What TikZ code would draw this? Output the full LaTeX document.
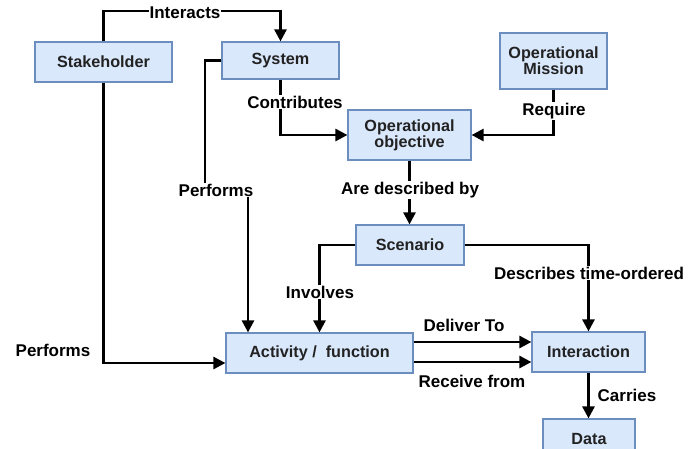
\documentclass[tikz,border=0pt]{standalone}
\usepackage{fontspec}
\setmainfont{Liberation Sans}
\usetikzlibrary{arrows.meta}
\definecolor{boxfill}{HTML}{DAE8FC}
\definecolor{boxline}{HTML}{6C8EBF}
\definecolor{boxtext}{HTML}{222222}
\tikzset{
  box/.style={draw=boxline, fill=boxfill, line width=1.2pt, inner sep=0pt,
    font=\bfseries\fontsize{16.2}{15}\selectfont, text=boxtext, align=center},
  conn/.style={line width=2.6pt, -{Triangle[length=12pt,width=12pt]}},
  lbl/.style={fill=white, inner sep=1pt, font=\bfseries\fontsize{17}{18}\selectfont},
}
\begin{document}
\begin{tikzpicture}[x=1pt,y=-1pt]
\path[fill=white] (0,0) rectangle (699,448);
\useasboundingbox (0,0) rectangle (699,448);
\clip (0,0) rectangle (699,448);

\node[box, minimum width=137, minimum height=40] (stake) at (103.5,62) {Stakeholder};
\node[box, minimum width=117, minimum height=37] (sys) at (280.5,60.5) {System};
\node[box, minimum width=107, minimum height=56] (mis) at (553.5,61) {Operational\\Mission};
\node[box, minimum width=123, minimum height=50] (obj) at (409.5,135) {Operational\\objective};
\node[box, minimum width=108, minimum height=40] (scn) at (410,245) {Scenario};
\node[box, minimum width=187, minimum height=40] (act) at (319.5,353) {Activity /\ \ function};
\node[box, minimum width=113, minimum height=40] (int) at (588.5,352) {Interaction};
\node[box, minimum width=92, minimum height=40] (dat) at (589,439) {Data};

\coordinate (c5) at (248,190);
\coordinate (c6) at (103.5,363);
\coordinate (cd) at (0,342);
\coordinate (cr) at (0,362);

\draw[conn] (stake.north) |- (185,11) -| (sys.north);
\draw[conn] (sys.south) |- (obj.west);
\draw[conn] (mis.south) |- (obj.east);
\draw[conn] (obj.south) -- (obj.south |- scn.north);
\draw[conn] (sys.west) -| (205,190) -- (c5) -- (c5 |- act.north);
\draw[conn] (stake.south) -- (c6) -- (act.west |- c6);
\draw[conn] (scn.west) -| (act.north);
\draw[conn] (scn.east) -| (int.north);
\draw[conn] (act.east |- cd) -- (int.west |- cd);
\draw[conn] (act.east |- cr) -- (int.west |- cr);
\draw[conn] (int.south) -- (int.south |- dat.north);

\node[lbl] (l1) at (185,13) {Interacts};
\node[lbl] (l2) at (295,102) {Contributes};
\node[lbl] (l3) at (554,111) {Require};
\node[lbl] (l4) at (410,190) {Are described by};
\node[lbl] (l5) at (216,190) {Performs};
\node[lbl] (l6) at (53,350) {Performs};
\node[lbl] (l7) at (320,292) {Involves};
\node[lbl] (l8) at (589,273) {Describes time-ordered};
\node[lbl] (l9) at (464,325) {Deliver To};
\node[lbl] (l10) at (472,381) {Receive from};
\node[lbl] (l11) at (627,395) {Carries};
\end{tikzpicture}
\end{document}
